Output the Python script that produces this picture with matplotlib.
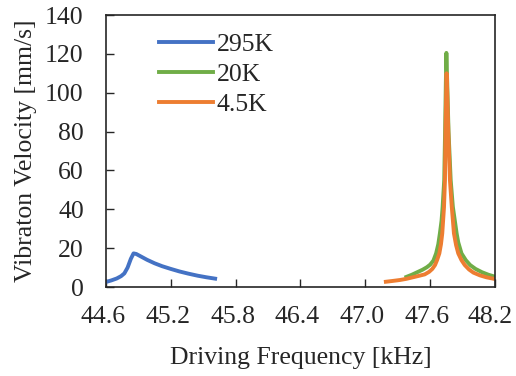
import matplotlib.pyplot as plt
from matplotlib.transforms import ScaledTranslation

plt.rcParams['font.family'] = ['Liberation Serif', 'DejaVu Serif']
plt.rcParams['font.size'] = 18.5

# 295K
f_295 = [44.60, 44.65, 44.70, 44.74, 44.77, 44.80, 44.83, 44.855, 44.88, 44.92,
         44.98, 45.05, 45.12, 45.20, 45.28, 45.36, 45.45, 45.53, 45.61]
v_295 = [2.6, 3.4, 4.4, 5.6, 7.0, 10.0, 14.5, 17.3, 17.0, 15.8,
         14.0, 12.2, 10.7, 9.3, 8.0, 6.9, 5.8, 5.0, 4.3]

# 20K
f_20 = [47.38, 47.43, 47.48, 47.53, 47.57, 47.60, 47.63, 47.655, 47.675, 47.69,
        47.705, 47.715, 47.73, 47.738, 47.745, 47.75, 47.758, 47.77, 47.79, 47.81,
        47.845, 47.86, 47.89, 47.93, 47.97, 48.02, 48.08, 48.14, 48.20]
v_20 = [5.2, 6.3, 7.6, 8.9, 10.2, 11.5, 13.6, 17.3, 22.0, 27.6,
        34.0, 41.0, 55.0, 80.0, 105.0, 120.5, 105.0, 80.0, 55.0, 41.3,
        27.6, 23.0, 17.3, 13.8, 11.3, 9.3, 7.6, 6.3, 5.3]

# 4.5K
f_45 = [47.19, 47.25, 47.32, 47.38, 47.44, 47.50, 47.55, 47.59, 47.62, 47.645,
        47.665, 47.685, 47.70, 47.712, 47.728, 47.737, 47.742, 47.748, 47.752, 47.758,
        47.768, 47.783, 47.80, 47.82, 47.84, 47.86, 47.89, 47.92, 47.96, 48.00,
        48.06, 48.12, 48.20]
v_45 = [2.7, 3.1, 3.6, 4.2, 5.0, 5.8, 6.5, 7.8, 9.3, 11.3,
        14.0, 17.3, 22.0, 27.6, 41.0, 55.0, 80.0, 100.0, 110.0, 100.0,
        80.0, 55.0, 41.3, 27.6, 21.5, 17.3, 13.8, 11.3, 9.0, 7.4,
        6.0, 5.0, 4.1]

xticks = [44.6, 45.2, 45.8, 46.4, 47.0, 47.6, 48.2]
yticks = [0, 20, 40, 60, 80, 100, 120, 140]

fig = plt.figure(figsize=(5.16, 3.76), dpi=100)
ax = fig.add_axes([0.2054, 0.2367, 0.7539, 0.7234])

ax.plot(f_295, v_295, color='#4472C4', lw=2.8, label='295K')
ax.plot(f_20, v_20, color='#70AD47', lw=2.8, label='20K')
ax.plot(f_45, v_45, color='#ED7D31', lw=2.8, label='4.5K')

ax.set_xlim(44.6, 48.2)
ax.set_ylim(0, 140)
ax.set_xticks(xticks)
ax.set_xticklabels(['%.1f' % t for t in xticks])
ax.set_yticks(yticks)
ax.tick_params(axis='x', direction='in', length=6, width=1, pad=13.5, colors='#262626')
ax.tick_params(axis='y', direction='in', length=6, width=1, pad=16, colors='#262626')
for s in ax.spines.values():
    s.set_color('#262626')
    s.set_linewidth(1.2)

# excel nudges the tick labels a bit to the left
labels = ax.get_xticklabels()
for i, lab in enumerate(labels):
    shift = -5 if i == len(labels) - 1 else -3
    lab.set_transform(lab.get_transform() + ScaledTranslation(shift / 100, 0, fig.dpi_scale_trans))

ax.set_xlabel('Driving Frequency [kHz]', color='#262626', labelpad=14)
ax.set_ylabel('Vibraton Velocity [mm/s]', color='#262626', labelpad=6)

leg = ax.legend(loc='upper left', bbox_to_anchor=(0.136, 0.932), frameon=False,
                handlelength=2.1, handletextpad=0.15, labelspacing=0.27,
                borderpad=0, borderaxespad=0)
for t in leg.get_texts():
    t.set_color('#262626')

fig.savefig('out.png', dpi=100)
